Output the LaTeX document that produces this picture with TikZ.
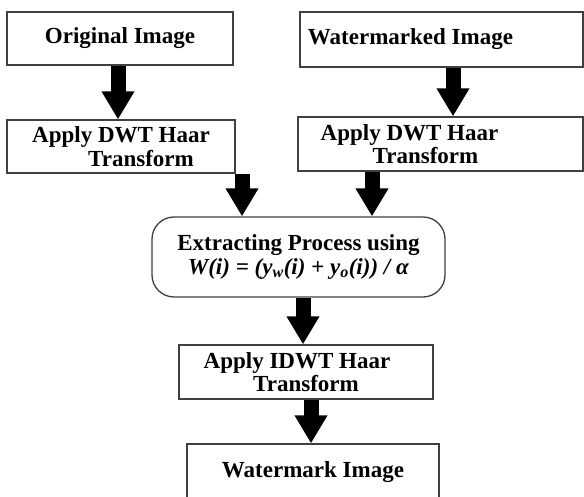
\documentclass[tikz,border=0pt]{standalone}
\usepackage{fontspec}
\setmainfont{Liberation Serif}
\usepackage{tikz}
\usetikzlibrary{arrows.meta}
\tikzset{procbox/.style={
  draw=black!75, line width=1.3pt, fill=white, rectangle,
  align=center, inner sep=0pt,
  font=\fontsize{23}{23.5}\selectfont\bfseries},
  fatarrow/.style={-{Triangle[width=31pt,length=28pt]}, line width=15pt, black}
}

\begin{document}
\begin{tikzpicture}[x=1pt, y=-1pt]

    % Canvas
    \useasboundingbox (0,0) rectangle (584,497);

    % Boxes: inputs
    \node[procbox, minimum width=226pt, minimum height=53pt] (orig) at (120,38.5) {Original Image};
    \node[procbox, minimum width=283pt, minimum height=55pt] (wmimg) at (441.5,39.5) {Watermarked Image\hbox to 62pt{}};

    % Boxes: forward transform
    \node[procbox, minimum width=228pt, minimum height=53pt] (dwtL) at (121,146.5) {Apply DWT Haar\\\hbox to 40pt{}Transform};
    \node[procbox, minimum width=285pt, minimum height=54pt] (dwtR) at (440.5,144) {Apply DWT Haar\hbox to 62pt{}\\Transform\hbox to 30pt{}};

    % Box: extracting process
    \node[procbox, rounded corners=22pt, minimum width=293pt, minimum height=80pt] (extract) at (298.5,257)
      {Extracting Process using\\\textit{W(i) = (y\textsubscript{w}(i) + y\textsubscript{o}(i)) / α}};

    % Boxes: inverse transform & result
    \node[procbox, minimum width=254pt, minimum height=54pt] (idwt) at (306,372) {Apply IDWT Haar\hbox to 18pt{}\\Transform};
    \node[procbox, minimum width=252pt, minimum height=56pt] (wmark) at (313,472) {Watermark Image};

    % Arrows
    \draw[fatarrow] (orig.south -| 118,0) -- (dwtL.north -| 118,0);
    \draw[fatarrow] (wmimg.south -| 453,0) -- (dwtR.north -| 453,0);
    \draw[fatarrow] (dwtL.south -| 242,0) -- (extract.north -| 242,0);
    \draw[fatarrow] (dwtR.south -| 372,0) -- (extract.north -| 372,0);
    \draw[fatarrow] (extract.south -| 303,0) -- (idwt.north -| 303,0);
    \draw[fatarrow] (idwt.south -| 311,0) -- (wmark.north -| 311,0);

\end{tikzpicture}
\end{document}
